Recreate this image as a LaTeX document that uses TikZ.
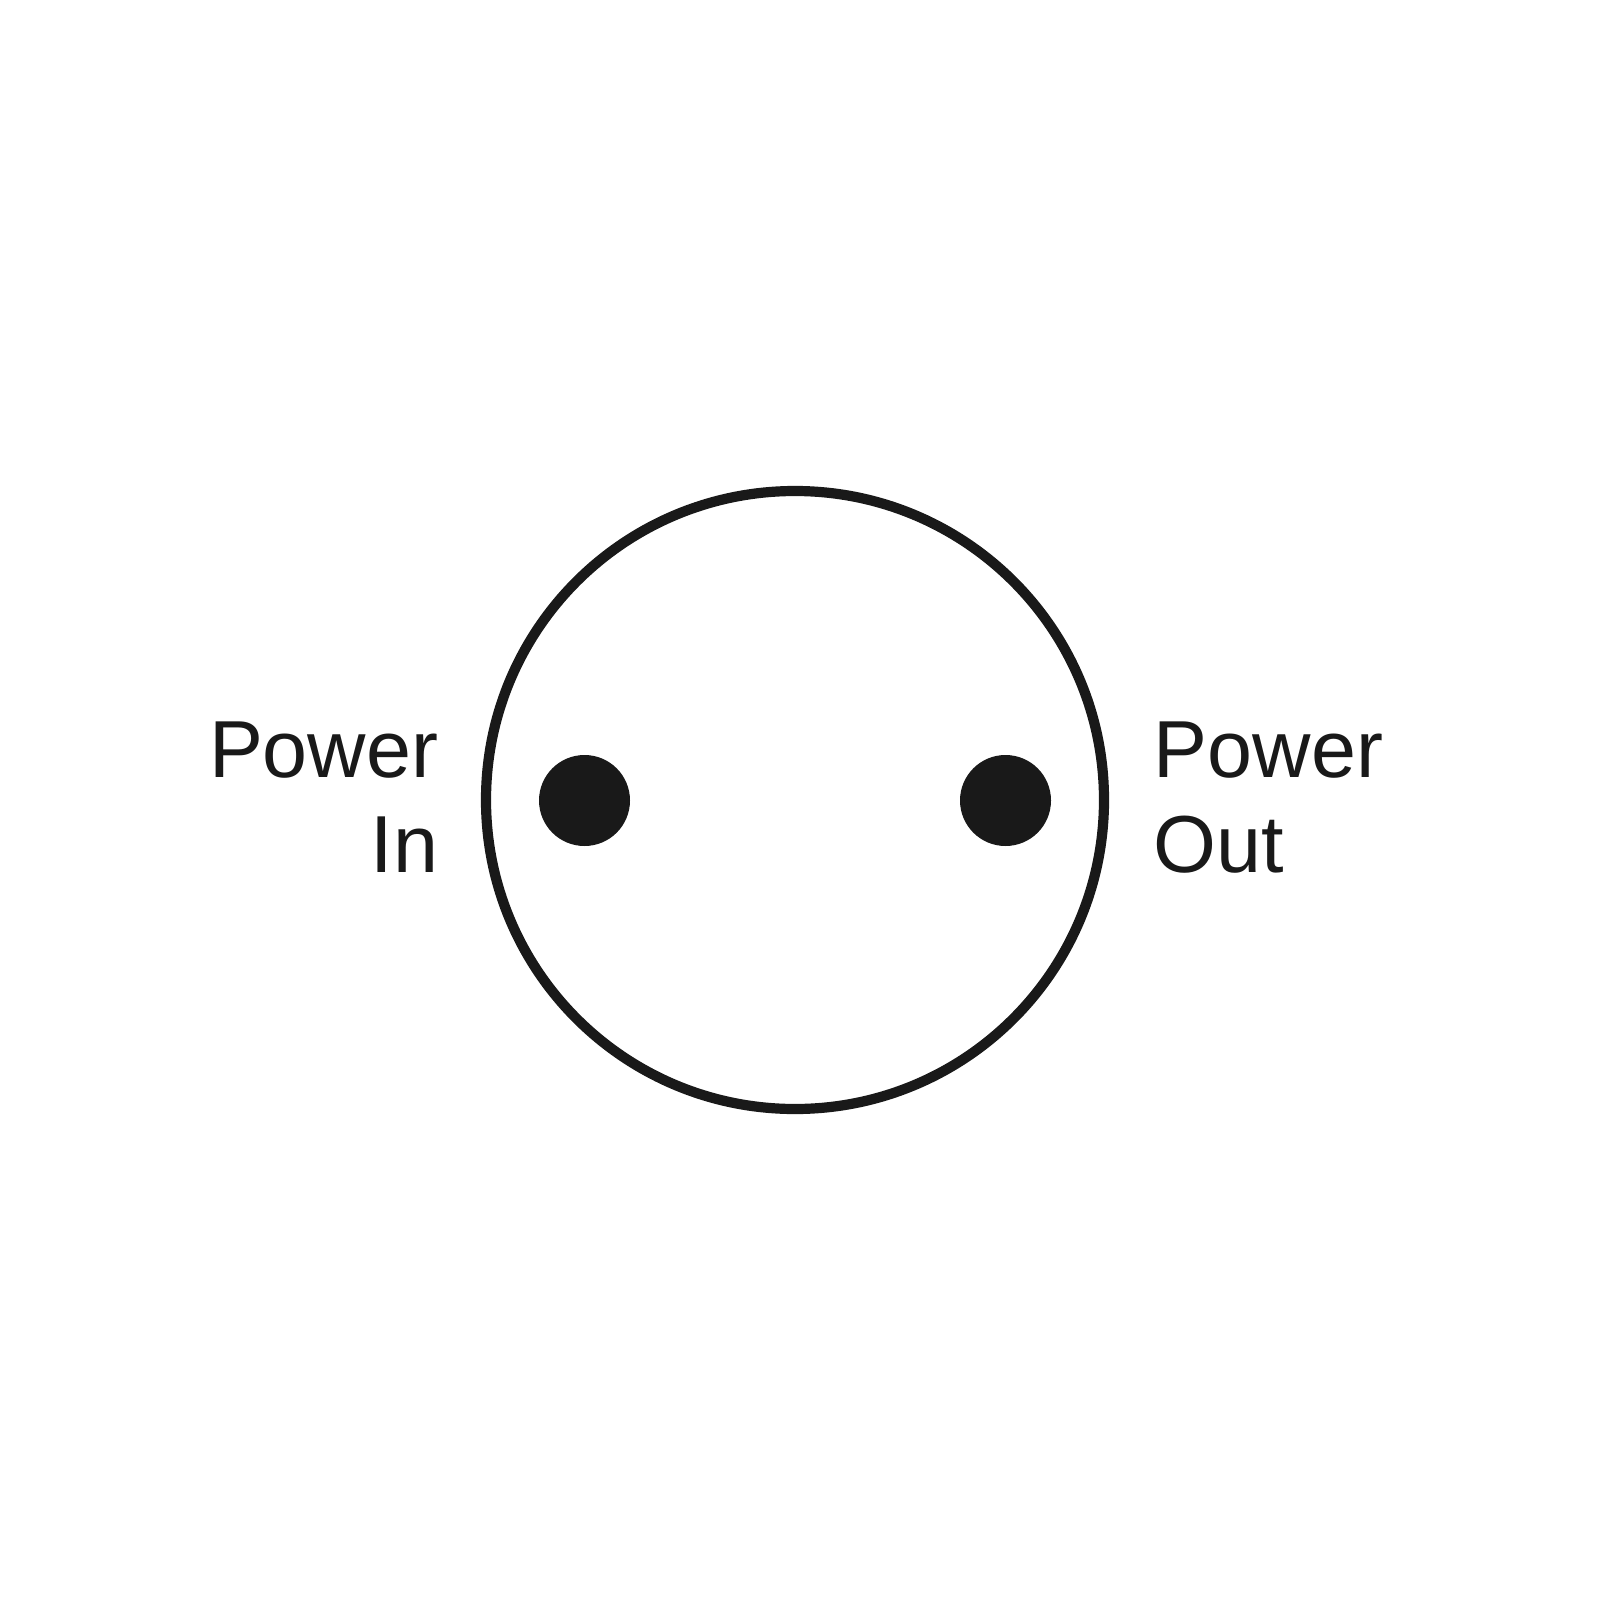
\documentclass[tikz,border=0pt]{standalone}
\usepackage{fontspec}
\setmainfont{Liberation Sans}
\begin{document}
\begin{tikzpicture}[x=0.01cm,y=-0.01cm,
  ring/.style={draw=black!90,line width=2.9pt},
  pin/.style={fill=black!90},
  lbl/.style={font=\fontsize{23}{28}\selectfont,inner sep=0pt,text=black!90}]
\useasboundingbox (0,0) rectangle (1600,1600);
\draw[ring] (795,800) circle (309);
\fill[pin] (584.5,800.5) circle (45.5);
\fill[pin] (1005.5,800.5) circle (45.5);
\node[lbl,anchor=base east] (inA) at (439,777) {Power};
\node[lbl,anchor=base east] (inB) at (439,872) {In};
\node[lbl,anchor=base west] (outA) at (1153,777) {Power};
\node[lbl,anchor=base west] (outB) at (1153,872) {Out};
\end{tikzpicture}
\end{document}
